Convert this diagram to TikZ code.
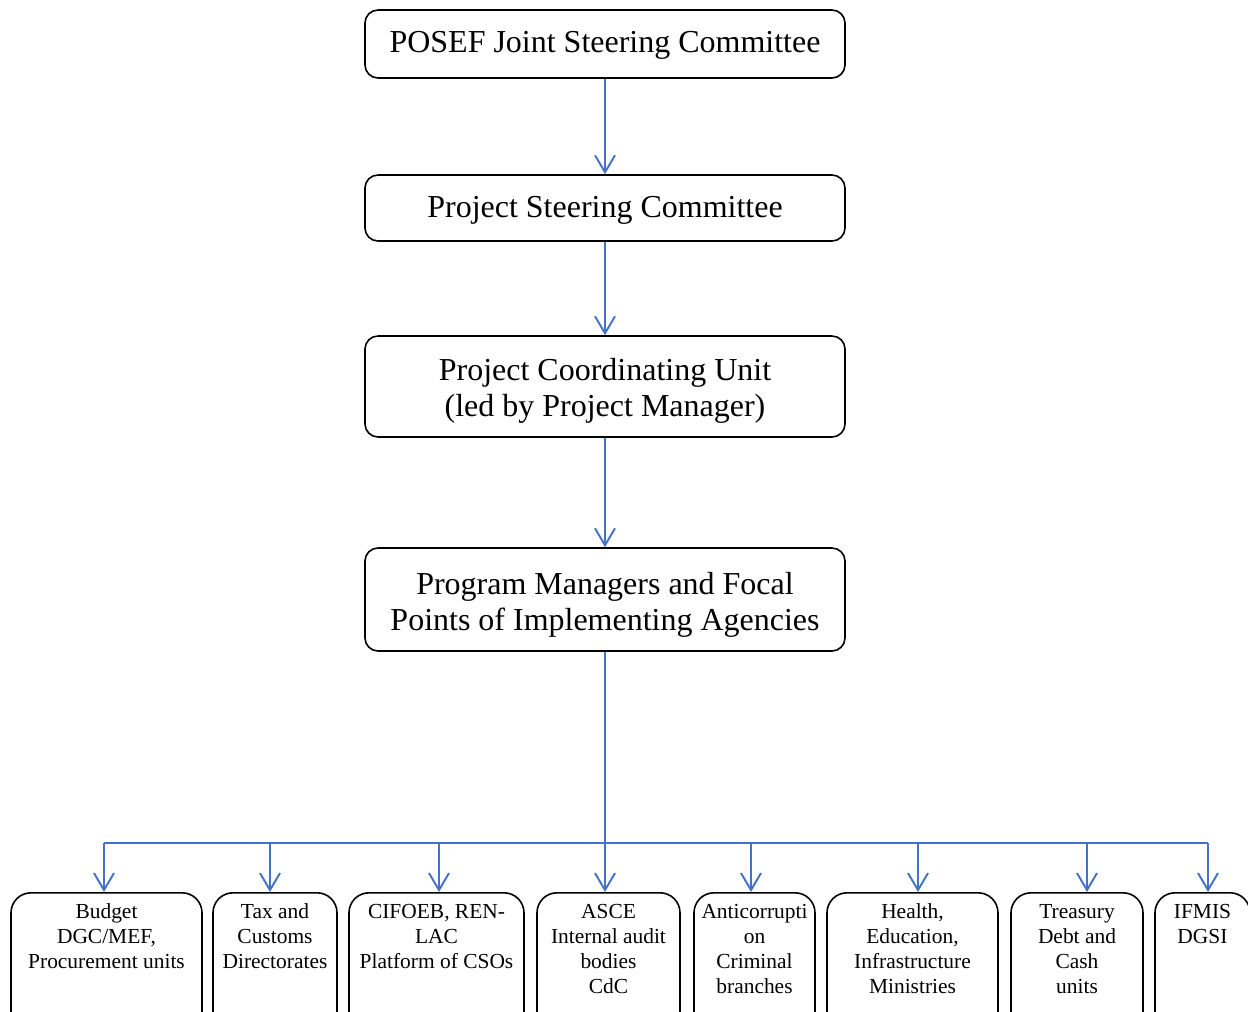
\documentclass[tikz,border=0pt]{standalone}
\usepackage{fontspec}
\setmainfont{Liberation Serif}
\usetikzlibrary{arrows.meta}
\definecolor{linkblue}{RGB}{68,114,196}

\begin{document}
\begin{tikzpicture}[x=0.2mm,y=-0.2mm,
    level/.style={draw,line width=0.9pt,rounded corners=2.6mm,text width=94mm,inner xsep=1mm,inner ysep=0pt,align=flush center,text height=5mm,font=\fontsize{18.2}{20.8}\selectfont},
    unit/.style={draw,line width=0.9pt,rounded corners=4mm,anchor=north,align=flush center,inner xsep=1mm,inner ysep=1.5mm,text height=3.7mm,text depth=24mm,font=\fontsize{12.2}{14.2}\selectfont},
    link/.style={draw=linkblue,line width=1.1pt},
    arr/.style={link,-{Straight Barb[length=9.7pt,width=11.4pt]}}]
        \path[use as bounding box,clip] (0,0) rectangle (1248,1011);
        %% Chain of command
        \node[level,minimum height=13.6mm,text depth=1.8mm] (posef) at (605,44) {POSEF Joint Steering Committee};
        \node[level,minimum height=13.2mm,text depth=1.4mm] (psc) at (605,208) {Project Steering Committee};
        \node[level,minimum height=20.2mm,text depth=7.6mm] (pcu) at (605,386.5) {Project Coordinating Unit\\(led by Project Manager)};
        \node[level,minimum height=20.6mm,text depth=7.2mm] (pm) at (605,599.5) {Program Managers and Focal\\Points of Implementing Agencies};
        \draw[arr] (posef) -- (psc);
        \draw[arr] (psc) -- (pcu);
        \draw[arr] (pcu) -- (pm);
        %% Agencies
        \node[unit,text width=36.2mm] (budget) at (106.5,892) {Budget\\DGC/MEF,\\Procurement units};
        \node[unit,text width=22.8mm] (tax) at (275,892) {Tax and\\Customs\\Directorates};
        \node[unit,text width=33mm] (cifoeb) at (436.5,892) {CIFOEB, REN-\\LAC\\Platform of CSOs};
        \node[unit,text width=26.6mm] (asce) at (608.5,892) {ASCE\\Internal audit\\bodies\\CdC};
        \node[unit,text width=22.2mm] (anti) at (754.5,892) {Anticorrupti\\on\\Criminal\\branches};
        \node[unit,text width=32.2mm] (health) at (912.5,892) {Health,\\Education,\\Infrastructure\\Ministries};
        \node[unit,text width=24.4mm] (treasury) at (1077,892) {Treasury\\Debt and\\Cash\\units};
        \node[unit,text width=17mm] (ifmis) at (1202.5,892) {IFMIS\\DGSI};
        %% Bus
        \coordinate (bus) at (605,843);
        \coordinate (busL) at (104,843);
        \coordinate (busR) at (1208,843);
        \draw[link] (pm.south) -- (bus);
        \draw[link] (busL) -- (busR);
        \foreach \n/\dx in {budget/-2.5,tax/-5,cifoeb/2.5,asce/-3.5,anti/-3.5,health/5.5,treasury/10,ifmis/5.5}
            \draw[arr] ([xshift=\dx*0.2mm]\n.north) ++(0,-49) -- ([xshift=\dx*0.2mm]\n.north);
    \end{tikzpicture}
\end{document}
